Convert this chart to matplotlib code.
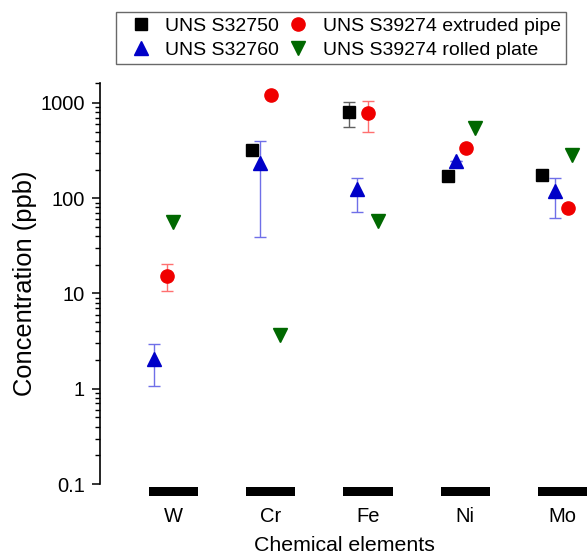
import numpy as np
import matplotlib
matplotlib.use("Agg")
import matplotlib.pyplot as plt
from matplotlib.lines import Line2D
from matplotlib.patches import Rectangle
from matplotlib.ticker import FixedLocator, FuncFormatter

plt.rcParams['font.family'] = ['Liberation Sans', 'DejaVu Sans']

# Concentrations (ppb) per element
elements = ['W', 'Cr', 'Fe', 'Ni', 'Mo']

s32750 = [np.nan, 321, 804, 173, 175]
s32750_lo = [0, 0, 244, 0, 0]
s32750_hi = [0, 0, 221, 0, 0]

s32760 = [2.03, 232, 125, 243, 118]
s32760_lo = [0.96, 193, 53, 0, 56]
s32760_hi = [0.90, 167, 38, 0, 45]

pipe = [15.3, 1214, 785, 337, 79]
pipe_lo = [4.7, 0, 289, 0, 0]
pipe_hi = [5.2, 0, 265, 0, 0]

plate = [56, 3.7, 57, 540, 284]

# horizontal shift of each series around the element position
shift_sq = [-0.19, -0.19, -0.20, -0.175, -0.21]
shift_up = [-0.20, -0.11, -0.11, -0.10, -0.08]
shift_ci = [-0.07, 0.0, 0.0, 0.01, 0.05]
shift_dn = [0.0, 0.10, 0.10, 0.10, 0.10]

pos = np.arange(1, len(elements) + 1)

fig = plt.figure(figsize=(5.88, 5.57), dpi=100)
ax = fig.add_axes([100/588, 73/557, 488/588, 401/557])

styles = {
    'sq': dict(marker='s', color='black', ms=8.5),
    'up': dict(marker='^', color='#0000c8', ms=10.5),
    'ci': dict(marker='o', color='#f00000', ms=9.5),
    'dn': dict(marker='v', color='#006800', ms=10.5),
}

def series(y, lo, hi, shift, key, ecolor):
    st = styles[key]
    x = pos + np.array(shift)
    ax.errorbar(x, y, yerr=[lo, hi], fmt=st['marker'], color=st['color'],
                ms=st['ms'], mec=st['color'], ecolor=ecolor, elinewidth=1.0,
                capsize=4, capthick=1.0, zorder=3)

series(s32750, s32750_lo, s32750_hi, shift_sq, 'sq', '#606060')
series(s32760, s32760_lo, s32760_hi, shift_up, 'up', '#6f6fe8')
series(pipe, pipe_lo, pipe_hi, shift_ci, 'ci', '#ff7070')
ax.plot(pos + np.array(shift_dn), plate, ls='none', zorder=3, **styles['dn'])

ax.set_yscale('log')
ytop = 1620
ax.set_ylim(0.1, ytop)
ax.set_xlim(0.246, 5.26)

ax.yaxis.set_major_locator(FixedLocator([0.1, 1, 10, 100, 1000]))
minors = [k * 10.0**d for d in range(-1, 3) for k in range(2, 10)] + [ytop]
ax.yaxis.set_minor_locator(FixedLocator(minors))
ax.yaxis.set_major_formatter(FuncFormatter(lambda v, p: '%g' % v))
ax.yaxis.set_minor_formatter(FuncFormatter(lambda v, p: ''))
ax.tick_params(axis='y', which='major', length=6, width=1.1, direction='out',
               labelsize=14.5, pad=5)
ax.tick_params(axis='y', which='minor', length=3.5, width=1.0, direction='out')

ax.set_xticks(pos)
ax.set_xticklabels(elements)
ax.tick_params(axis='x', length=0, labelsize=14.5, pad=16.5)

for s in ['top', 'right', 'bottom']:
    ax.spines[s].set_visible(False)
ax.spines['left'].set_linewidth(1.2)

# thick axis segments under each element
for p in pos:
    ax.add_patch(Rectangle((p - 0.253, -0.030), 0.506, 0.022,
                           transform=ax.get_xaxis_transform(),
                           facecolor='black', edgecolor='none', clip_on=False))

ax.set_xlabel('Chemical elements', fontsize=15.3, labelpad=7)
ax.set_ylabel('Concentration (ppb)', fontsize=18.4, labelpad=2)

labels = ['UNS S32750', 'UNS S32760', 'UNS S39274 extruded pipe', 'UNS S39274 rolled plate']
handles = [Line2D([], [], ls='none', **styles[k]) for k in ['sq', 'up', 'ci', 'dn']]
leg = ax.legend(handles, labels, ncol=2, loc='upper left',
                bbox_to_anchor=(116/588, 1 - 12/557), bbox_transform=fig.transFigure,
                fontsize=14, frameon=True, fancybox=False, edgecolor='#444444',
                handlelength=2.0, handletextpad=0.25, columnspacing=0.0,
                labelspacing=0.33, borderpad=0.27, borderaxespad=0)
leg.get_frame().set_linewidth(1.0)

fig.savefig('out.png', dpi=100)
